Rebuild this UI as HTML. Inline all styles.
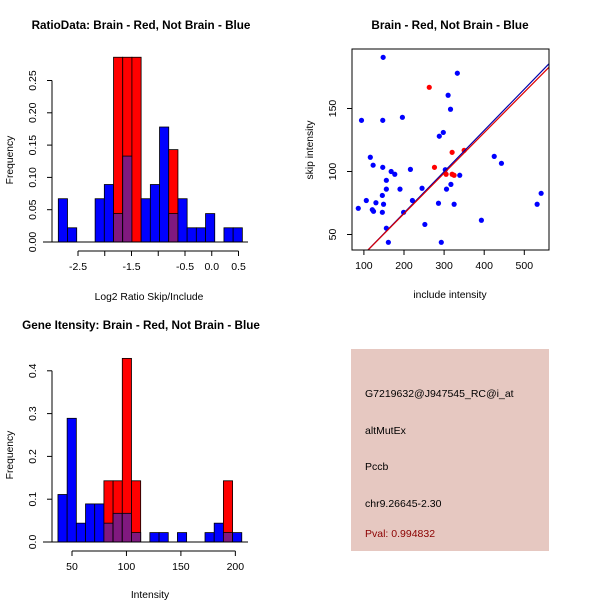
<!DOCTYPE html>
<html><head><meta charset="utf-8"><style>
body{margin:0;background:#fff}
svg{display:block;font-family:"Liberation Sans",sans-serif}
</style></head><body>
<svg id="c" width="600" height="600" viewBox="0 0 600 600">
<rect x="0" y="0" width="600" height="600" fill="#fff"/>
<text x="141" y="29" text-anchor="middle" font-size="11.7" font-weight="bold">RatioData: Brain - Red, Not Brain - Blue</text>
<text x="149" y="300" text-anchor="middle" font-size="10.3">Log2 Ratio Skip/Include</text>
<text transform="translate(13,160) rotate(-90)" text-anchor="middle" font-size="10.3">Frequency</text>
<text x="450" y="29" text-anchor="middle" font-size="11.7" font-weight="bold">Brain - Red, Not Brain - Blue</text>
<text x="450" y="298" text-anchor="middle" font-size="10.3">include intensity</text>
<text transform="translate(313,150) rotate(-90)" text-anchor="middle" font-size="10.3">skip intensity</text>
<text x="141" y="329" text-anchor="middle" font-size="11.7" font-weight="bold">Gene Itensity: Brain - Red, Not Brain - Blue</text>
<text x="150" y="598" text-anchor="middle" font-size="10.3">Intensity</text>
<text transform="translate(13,455) rotate(-90)" text-anchor="middle" font-size="10.3">Frequency</text>
<g>
<rect x="351" y="349" width="198" height="202" fill="#e6c8c1"/>
<text x="365" y="397" font-size="10.5">G7219632@J947545_RC@i_at</text>
<text x="365" y="434" font-size="10.5">altMutEx</text>
<text x="365" y="470" font-size="10.5">Pccb</text>
<text x="365" y="507" font-size="10.5">chr9.26645-2.30</text>
<text x="365" y="537" font-size="10.5" fill="#8b0000">Pval: 0.994832</text>
</g>
</svg>
<script>
// ---- data ----
const ratioBlue=[0.067,0.022,0,0,0.067,0.089,0.044,0.133,0,0.067,0.089,0.178,0.044,0.067,0.022,0.022,0.044,0,0.022,0.022];
const ratioRed=[0,0,0,0,0,0,0.286,0.286,0.286,0,0,0,0.143,0,0,0,0,0,0,0];
const ratioBinStart=-2.868, ratioBinWidth=0.172;
const ratioXTicks=[-2.5,-2,-1.5,-1,-0.5,0,0.5];
const ratioXLabels=["-2.5","","-1.5","","-0.5","0.0","0.5"];
const ratioYTicks=[0,0.05,0.1,0.15,0.2,0.25];
const ratioYLabels=["0.00","0.05","0.10","0.15","0.20","0.25"];

const intBlue=[0.111,0.289,0.044,0.089,0.089,0.044,0.067,0.067,0.022,0,0.022,0.022,0,0.022,0,0,0.022,0.044,0.022,0.022];
const intRed=[0,0,0,0,0,0.143,0.143,0.429,0.143,0,0,0,0,0,0,0,0,0,0.143,0];
const intBinStart=37.1, intBinWidth=8.44;
const intXTicks=[50,100,150,200];
const intXLabels=["50","100","150","200"];
const intYTicks=[0,0.1,0.2,0.3,0.4];
const intYLabels=["0.0","0.1","0.2","0.3","0.4"];

const blueInclude=[148,333,310,316,94,147,196,298,288,116,123,147,168,177,216,156,190,156,146,130,149,86,106,121,124,146,221,199,245,303,306,317,339,286,325,252,156,161,293,393,425,443,532,542];
const blueSkip=[190.6,178,160.5,149.4,140.6,140.6,143,131,128,111.3,105,103.3,100,97.8,101.7,93,86,86,81,75.2,74,70.8,77,69.7,68.4,67.6,77,67.6,86.7,101.4,86,89.8,97,74.8,74,58,55,43.8,43.8,61.3,112,106.5,74,82.7];
const redInclude=[263,276,320,350,305,320,325];
const redSkip=[166.8,103.3,115.2,116.8,97.8,97.8,97];
const blueFit=[1.6,0.3275];
const redFit=[2.3,0.3213];
const scXTicks=[100,200,300,400,500];
const scYTicks=[50,100,150];

// ---- drawing ----
const svg=document.getElementById('c');
const NS='http://www.w3.org/2000/svg';
function mk(tag,attrs,parent){const e=document.createElementNS(NS,tag);for(const k in attrs)e.setAttribute(k,attrs[k]);(parent||svg).appendChild(e);return e;}

function hist(prefix,blue,red,start,w,xs,ys,xT,xL,yT,yL,ax,ay){
  const g=mk('g',{});
  
  
  for(let i=0;i<blue.length;i++){
    const x0=xs(start+i*w),x1=xs(start+(i+1)*w);
    const b=blue[i],r=red[i];
    if(Math.max(b,r)<=0)continue;
    if(b>0){const e=mk('rect',{x:x0,y:ys(b),width:x1-x0,height:ys(0)-ys(b),fill:'#0000ff',stroke:'#000','stroke-width':0.8},g);
      
      }
    if(r>0){const e=mk('rect',{x:x0,y:ys(r),width:x1-x0,height:ys(0)-ys(r),fill:'#ff0000',stroke:'#000','stroke-width':0.8},g);
      
      }
    const m=Math.min(b,r);
    if(m>0){const e=mk('rect',{x:x0,y:ys(m),width:x1-x0,height:ys(0)-ys(m),fill:'#80197f',stroke:'#000','stroke-width':0.8},g);
      
      }
  }
  const base=mk('line',{x1:43,x2:248,y1:ys(0),y2:ys(0),stroke:'#000'},g);
  
  
  const xa=mk('g',{},g);
  
  
  mk('line',{x1:xs(xT[0]),x2:xs(xT[xT.length-1]),y1:ax,y2:ax,stroke:'#000'},xa);
  xT.forEach((t,i)=>{mk('line',{x1:xs(t),x2:xs(t),y1:ax,y2:ax+5,stroke:'#000'},xa);
    if(xL[i]){const e=mk('text',{x:xs(t),y:ax+19,'text-anchor':'middle','font-size':10.5},xa);e.textContent=xL[i];}});
  const ya=mk('g',{},g);
  
  
  mk('line',{x1:ay,x2:ay,y1:ys(yT[0]),y2:ys(yT[yT.length-1]),stroke:'#000'},ya);
  yT.forEach((t,i)=>{mk('line',{x1:ay,x2:ay-5,y1:ys(t),y2:ys(t),stroke:'#000'},ya);
    const e=mk('text',{transform:`translate(${ay-16},${ys(t)}) rotate(-90)`,'text-anchor':'middle','font-size':10.5},ya);e.textContent=yL[i];});
}
const rx=v=>78+(v+2.5)*53.5, ry=v=>242-v*646;
hist('ratio',ratioBlue,ratioRed,ratioBinStart,ratioBinWidth,rx,ry,ratioXTicks,ratioXLabels,ratioYTicks,ratioYLabels,251,52);
const ix=v=>72+(v-50)*1.089, iy=v=>542-v*428;
hist('intensity',intBlue,intRed,intBinStart,intBinWidth,ix,iy,intXTicks,intXLabels,intYTicks,intYLabels,551,52);

// scatter
const sx=v=>404+(v-200)*0.401, sy=v=>171.5-(v-100)*1.26;
const L=352,R=549,T=49,B=250;
const sg=mk('g',{});


mk('defs',{},sg).innerHTML=`<clipPath id="cp"><rect x="${L}" y="${T}" width="${R-L}" height="${B-T}"/></clipPath>`;
const lg=mk('g',{'clip-path':'url(#cp)'},sg);
blueInclude.forEach((v,i)=>{const e=mk('circle',{cx:sx(v),cy:sy(blueSkip[i]),r:2.6,fill:'#0000ff'},lg);
  
  });
redInclude.forEach((v,i)=>{const e=mk('circle',{cx:sx(v),cy:sy(redSkip[i]),r:2.6,fill:'#ff0000'},lg);
  
  });
[[blueFit,'#0000aa','fit-line-blue'],[redFit,'#dd0000','fit-line-red']].forEach(([f,c,n])=>{
  const e=mk('line',{x1:sx(50),y1:sy(f[0]+f[1]*50),x2:sx(600),y2:sy(f[0]+f[1]*600),stroke:c,'stroke-width':1.2},lg);
  
  });
const bx=mk('rect',{x:L,y:T,width:R-L,height:B-T,fill:'none',stroke:'#000'},sg);


scXTicks.forEach(t=>{mk('line',{x1:sx(t),x2:sx(t),y1:B,y2:B+5,stroke:'#000'},sg);
  const e=mk('text',{x:sx(t),y:B+19,'text-anchor':'middle','font-size':10.5},sg);e.textContent=t;
  
  });
scYTicks.forEach(t=>{mk('line',{x1:L,x2:L-5,y1:sy(t),y2:sy(t),stroke:'#000'},sg);
  const e=mk('text',{transform:`translate(${L-16},${sy(t)}) rotate(-90)`,'text-anchor':'middle','font-size':10.5},sg);e.textContent=t;
  
  });
</script>
</body></html>
